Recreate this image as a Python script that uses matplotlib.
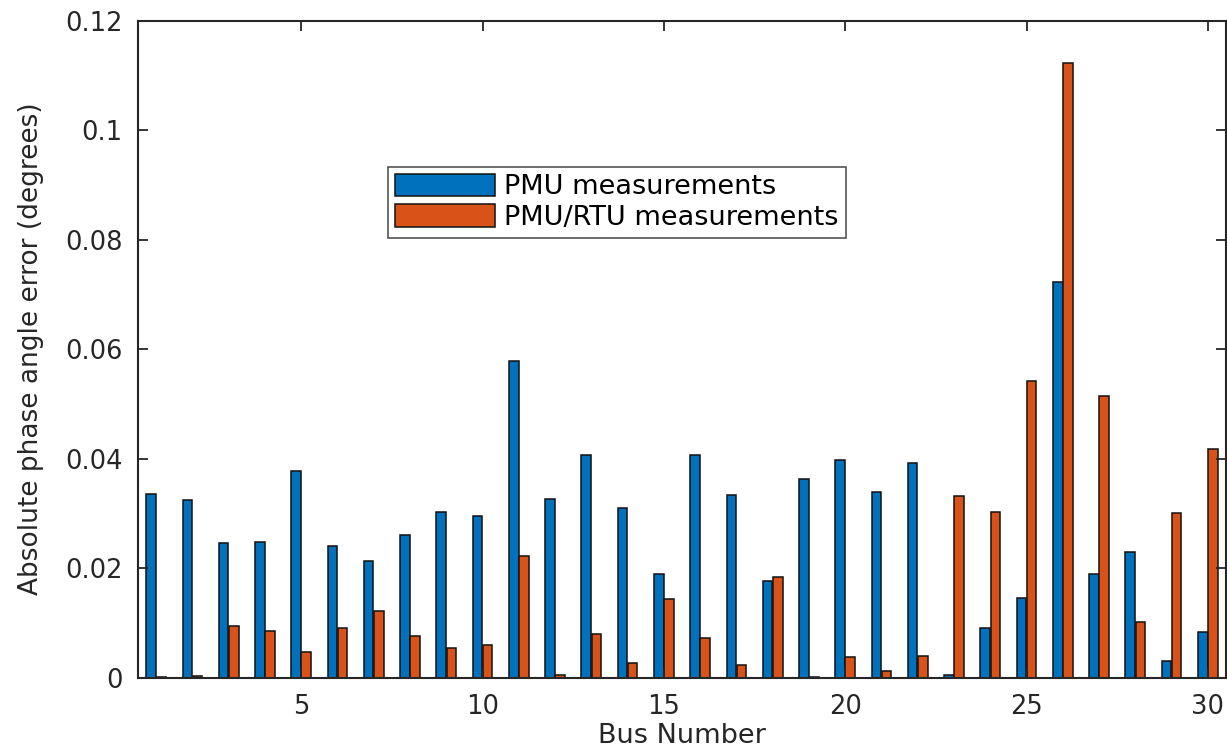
import numpy as np
import matplotlib.pyplot as plt

plt.rcParams['font.family'] = ['DejaVu Sans']

bus = np.arange(1, 31)
pmu = [0.0336, 0.0324, 0.0245, 0.0247, 0.0377, 0.0241, 0.0212, 0.0261, 0.0302, 0.0295,
       0.0578, 0.0326, 0.0407, 0.0310, 0.0190, 0.0406, 0.0334, 0.0177, 0.0363, 0.0398,
       0.0339, 0.0392, 0.0005, 0.0090, 0.0146, 0.0722, 0.0190, 0.0229, 0.0030, 0.0083]
pmu_rtu = [0.0001, 0.0003, 0.0094, 0.0085, 0.0046, 0.0091, 0.0122, 0.0076, 0.0054, 0.0059,
           0.0222, 0.0004, 0.0080, 0.0026, 0.0143, 0.0072, 0.0023, 0.0183, 0.0001, 0.0037,
           0.0012, 0.0040, 0.0332, 0.0303, 0.0542, 0.1123, 0.0515, 0.0102, 0.0300, 0.0418]
xticks = [5, 10, 15, 20, 25, 30]
yticks = [0, 0.02, 0.04, 0.06, 0.08, 0.1, 0.12]
ytick_labels = ['0', '0.02', '0.04', '0.06', '0.08', '0.1', '0.12']

axcol = '#262626'
fig = plt.figure(figsize=(12.27, 7.55), dpi=100)
ax = fig.add_axes([138/1227, 1 - 677.5/755, (1226-138)/1227, (677.5-20.7)/755])

w = 0.265
ax.bar(bus - 0.14, pmu, w, color='#0072BD', edgecolor='#111111', linewidth=1.1, label='PMU measurements')
ax.bar(bus + 0.14, pmu_rtu, w, color='#D95319', edgecolor='#111111', linewidth=1.1, label='PMU/RTU measurements')

ax.set_xlim(0.5, 30.5)
ax.set_ylim(0, 0.12)
ax.set_xticks(xticks)
ax.set_yticks(yticks)
ax.set_yticklabels(ytick_labels)
ax.tick_params(direction='in', length=7, width=1.3, colors=axcol, labelsize=18.5,
               top=True, right=True)
ax.tick_params(axis='x', pad=12)
ax.tick_params(axis='y', pad=11)
for s in ax.spines.values():
    s.set_color(axcol)
    s.set_linewidth(1.5)

ax.set_xlabel('Bus Number', fontsize=19.5, color=axcol, labelpad=2)
ax.set_ylabel('Absolute phase angle error (degrees)', fontsize=19, color=axcol, labelpad=15)

leg = ax.legend(loc='upper left', bbox_to_anchor=(388/1227, 1 - 167/755), bbox_transform=fig.transFigure,
                fontsize=19.5, fancybox=False, framealpha=1, edgecolor='#555555',
                handlelength=3.7, handleheight=0.9, handletextpad=0.35, borderpad=0.25,
                labelspacing=0.15, borderaxespad=0)
leg.get_frame().set_linewidth(1.2)

fig.savefig('out.png', dpi=100)
